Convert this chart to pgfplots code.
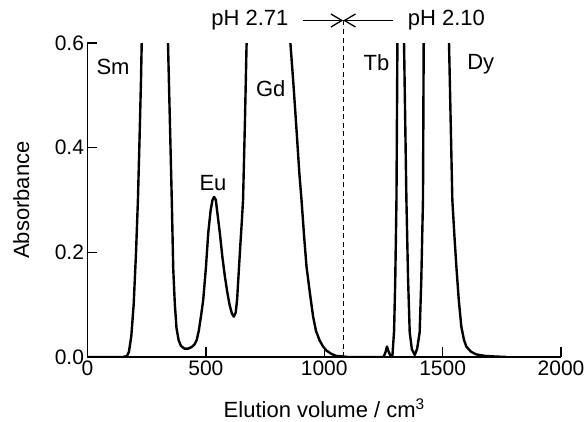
\documentclass[border=0pt]{standalone}
\usepackage{pgfplots}
\pgfplotsset{compat=1.18}
\usepackage{fontspec}
\setmainfont{Liberation Sans}
\usetikzlibrary{arrows.meta}

\pgfplotstableread{
x y
0 0
150 0
167 0.002
175 0.01
185 0.04
195 0.1
205 0.2
213 0.30
220 0.42
226 0.53
229 0.6
285 1.3
340 0.6
348 0.45
356 0.30
362 0.17
369 0.10
376 0.055
385 0.032
395 0.021
410 0.016
425 0.016
440 0.019
452 0.024
461 0.032
470 0.05
480 0.08
489 0.11
500 0.17
510 0.237
520 0.28
528 0.30
535 0.306
542 0.30
550 0.27
559 0.237
570 0.19
580 0.155
590 0.125
600 0.10
610 0.083
618 0.077
626 0.085
632 0.11
636 0.141
645 0.21
652 0.26
657 0.30
665 0.45
672 0.6
765 1.4
857 0.6
870 0.52
882 0.44
895 0.35
904 0.30
915 0.23
925 0.173
940 0.12
953 0.077
965 0.05
980 0.032
995 0.020
1010 0.012
1030 0.006
1051 0.002
1080 0.001
1100 0
1250 0
1258 0.008
1265 0.02
1272 0.01
1280 0.002
1288 0.003
1295 0.05
1300 0.15
1305 0.30
1309 0.6
1323 1.3
1337 0.6
1347 0.30
1354 0.15
1361 0.047
1370 0.015
1382 0.004
1392 0.015
1403 0.047
1410 0.15
1417 0.30
1420 0.6
1475 1.4
1527 0.6
1534 0.45
1541 0.30
1550 0.23
1558 0.173
1568 0.11
1579 0.058
1590 0.033
1600 0.02
1620 0.01
1642 0.005
1680 0.002
1720 0.001
1770 0
}\elution

\begin{document}
\begin{tikzpicture}
\begin{axis}[
    name=ax,
    scale only axis,
    width=473.5pt, height=314pt,
    xmin=0, xmax=2000, ymin=0, ymax=0.6,
    axis lines=left,
    axis line style={-, line width=1.5pt},
    tick align=inside,
    major tick length=10pt,
    tick style={line width=1.5pt, black},
    xtick={0,500,1000,1500,2000},
    ytick={0,0.2,0.4,0.6},
    xticklabel style={/pgf/number format/1000 sep={}},
    yticklabel style={/pgf/number format/.cd, fixed, fixed zerofill, precision=1},
    /pgf/number format/assume math mode=true,
    ticklabel style={font=\fontsize{21}{25}\selectfont},
    label style={font=\fontsize{22}{26}\selectfont},
    xlabel={Elution volume / cm\textsuperscript{3}},
    ylabel={Absorbance},
    xlabel style={at={(axis description cs:0.5,-0.163)}, anchor=center},
    ylabel style={at={(axis description cs:-0.14,0.5)}, anchor=center},
    clip mode=individual,
]
\addplot[black, line width=2.4pt, line join=round] table {\elution};
\draw[black, line width=1.3pt, dash pattern=on 5pt off 3.5pt] (axis cs:1080,0) -- (axis cs:1080,0.643);
\draw[black, line width=1.3pt, -{Straight Barb[length=11pt,width=13pt]}] (axis cs:909,0.643) -- (axis cs:1080,0.643);
\draw[black, line width=1.3pt, -{Straight Barb[length=11pt,width=13pt]}] (axis cs:1289,0.643) -- (axis cs:1080,0.643);
\begin{scope}[every node/.style={font=\fontsize{22}{26}\selectfont, inner sep=0pt}]
\node at (axis cs:686,0.643) {pH 2.71};
\node at (axis cs:1516,0.643) {pH 2.10};
\node at (axis cs:108,0.555) {Sm};
\node at (axis cs:530,0.333) {Eu};
\node at (axis cs:774,0.513) {Gd};
\node at (axis cs:1221,0.563) {Tb};
\node at (axis cs:1661,0.559) {Dy};
\end{scope}
\end{axis}
\pgfresetboundingbox
\path[use as bounding box] ([xshift=-87.5pt,yshift=-64pt]ax.south west) rectangle ([xshift=24pt,yshift=43pt]ax.north east);
\end{tikzpicture}
\end{document}
